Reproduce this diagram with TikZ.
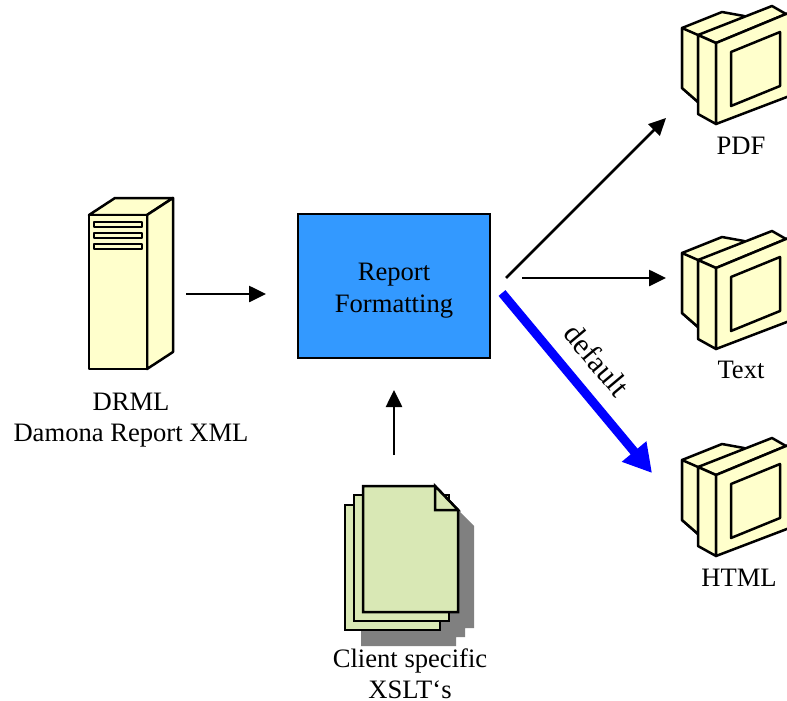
\documentclass[tikz,border=0pt]{standalone}
\usepackage{fontspec}
\setmainfont{Liberation Serif}
\usetikzlibrary{arrows.meta}
\definecolor{iconyellow}{HTML}{FFFFCC}
\definecolor{docgreen}{HTML}{D9E8B5}
\definecolor{boxblue}{HTML}{3399FF}
\definecolor{shadowgray}{HTML}{808080}
\tikzset{
  lbl/.style={font=\fontsize{26.6}{30}\selectfont, inner sep=0pt, text=black},
  deflbl/.style={font=\fontsize{30}{34}\selectfont, inner sep=0pt, text=black},
  icon/.style={draw=black, line width=2.5pt, line join=round, fill=iconyellow},
  docpage/.style={draw=black, line width=2.5pt, line join=miter, fill=docgreen},
  flow/.style={draw=black, line width=2.6pt, -{Triangle[length=17pt,width=16pt]}},
  defaultflow/.style={draw=blue, line width=9pt, -{Triangle[length=28pt,width=30pt]}},
  reportbox/.style={draw=black, line width=2.8pt, fill=boxblue, minimum width=192pt, minimum height=144pt, inner sep=0pt}
}
\newcommand{\monitoricon}[1]{%
  \begin{scope}[yshift=-#1pt]
    \path[icon] (682,28) -- (722,12) -- (744,16) -- (760,40) -- (698,102) -- (682,88) -- cycle;
    \path[icon] (682,28) -- (698,35) -- (698,102) -- (682,88) -- cycle;
    \path[icon] (698,35) -- (772,6) -- (786,14) -- (716,43) -- cycle;
    \path[icon] (698,35) -- (716,43) -- (716,124) -- (698,114) -- cycle;
    \path[icon] (716,43) -- (786,14) -- (800,8) -- (800,92) -- (716,124) -- cycle;
    \path[icon] (731,52) -- (780,32) -- (780,86) -- (731,106) -- cycle;
  \end{scope}}
\begin{document}
\begin{tikzpicture}[x=1pt,y=-1pt]
  \useasboundingbox (0,0) rectangle (787,701);
  \clip (0,0) rectangle (787,701);

  % server
  \path[icon] (89,215) -- (115,198) -- (173,198) -- (147,215) -- cycle;
  \path[icon] (147,215) -- (173,198) -- (173,352) -- (147,369) -- cycle;
  \path[icon] (89,215) rectangle (147,369);
  \path[icon,line width=2pt] (94,222) rectangle (142,226.5);
  \path[icon,line width=2pt] (94,233) rectangle (142,237.5);
  \path[icon,line width=2pt] (94,244) rectangle (142,248.5);

  % monitors
  \monitoricon{0}
  \monitoricon{225}
  \monitoricon{432}

  % documents
  \fill[shadowgray] (458,510) -- (474,526) -- (474,628) -- (465,628) -- (465,637)
    -- (456,637) -- (456,646) -- (361,646) -- (361,620) -- cycle;
  \path[docpage] (345,505) rectangle (440,630);
  \path[docpage] (354,495) rectangle (449,621);
  \path[docpage] (363,486) -- (435,486) -- (458,510) -- (458,612) -- (363,612) -- cycle;
  \path[docpage] (435,486) -- (458,510) -- (435,510) -- cycle;

  % central box
  \node[reportbox] (report) at (394,286) {};
  \node[lbl] (reportA) at (394,275) {Report};
  \node[lbl] (reportB) at (394,307) {Formatting};

  % labels
  \node[lbl] (drml) at (131,402) {DRML};
  \node[lbl] (damona) at (131,436) {Damona Report XML};
  \node[lbl] (pdf) at (741,146) {PDF};
  \node[lbl] (text) at (741,370) {Text};
  \node[lbl] (html) at (739,578) {HTML};
  \node[lbl] (client) at (410,661) {Client specific};
  \node[lbl] (xslt) at (410,690) {XSLT‘s};
  \node[deflbl,rotate=-50] (default) at (597,360) {default};

  % connector ends
  \coordinate (srvOut) at (186,294);
  \coordinate (repIn) at (266,294);
  \coordinate (docOut) at (394,455);
  \coordinate (repUp) at (394,390);
  \coordinate (pdfFrom) at (506,278);
  \coordinate (pdfTo) at (666,118);
  \coordinate (textFrom) at (522,278);
  \coordinate (textTo) at (666,278);
  \coordinate (htmlFrom) at (502,293);
  \coordinate (htmlTo) at (652,473);

  % connectors
  \draw[flow] (srvOut) -- (repIn);
  \draw[flow] (docOut) -- (repUp);
  \draw[flow] (pdfFrom) -- (pdfTo);
  \draw[flow] (textFrom) -- (textTo);
  \draw[defaultflow] (htmlFrom) -- (htmlTo);
\end{tikzpicture}
\end{document}
